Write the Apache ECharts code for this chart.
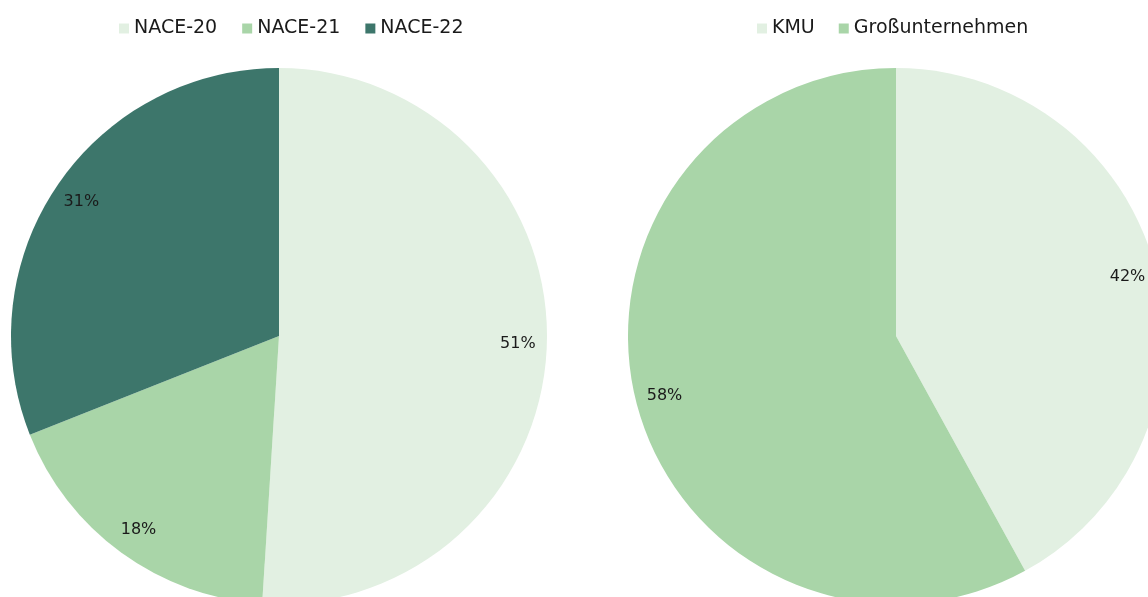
<!DOCTYPE html>
<html>
<head>
<meta charset="utf-8">
<script src="https://cdn.jsdelivr.net/npm/echarts@6/dist/echarts.min.js"></script>
<style>
  html, body { margin: 0; padding: 0; background: #fff; }
  #chart { width: 1148px; height: 597px; }
</style>
</head>
<body>
<div id="chart"></div>
<script>
// Branchen (linker Kreis)
var naceNames = ['NACE-20', 'NACE-21', 'NACE-22'];
var naceValues = [51, 18, 31];
// Unternehmensgröße (rechter Kreis)
var sizeNames = ['KMU', 'Großunternehmen'];
var sizeValues = [42, 58];

var colors = ['#e2f0e2', '#a9d5a8', '#3d766b'];
var font = '"DejaVu Sans", Lato, sans-serif';

function toData(names, values) {
  return names.map(function (n, i) {
    return { name: n, value: values[i], itemStyle: { color: colors[i] } };
  });
}

// Pie with fill only, and a transparent ring on top just to place the labels near the rim
function pieSeries(names, values, cx) {
  return [{
    type: 'pie',
    center: [cx, 336],
    radius: [0, 268],
    startAngle: 90,
    clockwise: true,
    label: { show: false },
    labelLine: { show: false },
    emphasis: { disabled: true },
    animation: false,
    data: toData(names, values)
  }, {
    type: 'pie',
    center: [cx, 336],
    radius: [204, 268],
    startAngle: 90,
    clockwise: true,
    silent: true,
    animation: false,
    itemStyle: { color: 'transparent' },
    label: {
      show: true,
      position: 'inside',
      formatter: '{c}%',
      color: '#1a1a1a',
      fontSize: 16,
      fontFamily: font
    },
    labelLine: { show: false },
    data: names.map(function (n, i) {
      return { name: n, value: values[i], itemStyle: { color: 'transparent' } };
    })
  }];
}

var chart = echarts.init(document.getElementById('chart'));
chart.setOption({
  backgroundColor: '#fff',
  legend: [{
    data: naceNames,
    left: 114,
    top: 14,
    icon: 'rect',
    itemWidth: 10,
    itemHeight: 10,
    itemGap: 25,
    textStyle: { fontSize: 19, color: '#1a1a1a', fontFamily: font },
    selectedMode: false
  }, {
    data: sizeNames,
    left: 752,
    top: 14,
    icon: 'rect',
    itemWidth: 10,
    itemHeight: 10,
    itemGap: 24,
    textStyle: { fontSize: 19, color: '#1a1a1a', fontFamily: font },
    selectedMode: false
  }],
  series: pieSeries(naceNames, naceValues, 279).concat(pieSeries(sizeNames, sizeValues, 896))
});
</script>
</body>
</html>
